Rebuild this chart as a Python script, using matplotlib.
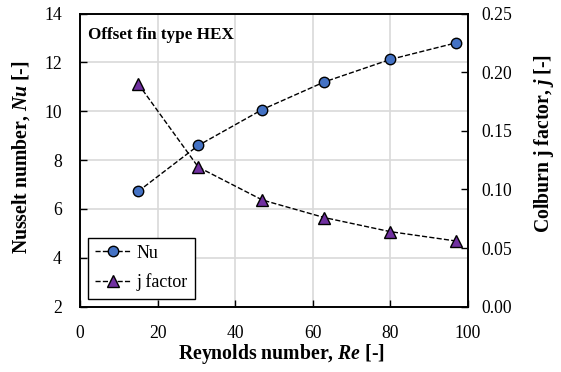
import matplotlib
matplotlib.use("Agg")
import matplotlib.pyplot as plt

# données
reynolds = [15, 30.5, 47, 63, 80, 97]
nusselt = [6.72, 8.6, 10.07, 11.2, 12.12, 12.8]
j_factor = [0.19, 0.119, 0.091, 0.076, 0.064, 0.056]

plt.rcParams['font.family'] = 'Liberation Serif'
plt.rcParams['mathtext.fontset'] = 'custom'
plt.rcParams['mathtext.it'] = 'Liberation Serif:bold:italic'
plt.rcParams['mathtext.rm'] = 'Liberation Serif:bold'

fig = plt.figure(figsize=(5.61, 3.72), dpi=100)
ax = fig.add_axes([0.1426, 0.1755, 0.6914, 0.7882])
ax2 = ax.twinx()

l1, = ax.plot(reynolds, nusselt, linestyle='--', color='black', linewidth=1,
              marker='o', markersize=7.5, markerfacecolor='#4472C4',
              markeredgecolor='black', markeredgewidth=1, label='Nu', zorder=3)
l2, = ax2.plot(reynolds, j_factor, linestyle='--', color='black', linewidth=1,
               marker='^', markersize=8, markerfacecolor='#7030A0',
               markeredgecolor='black', markeredgewidth=1, label='j factor', zorder=3)

ax.set_xlim(0, 100)
ax.set_ylim(2, 14)
ax2.set_ylim(0, 0.25)
ax.set_xticks([0, 20, 40, 60, 80, 100])
ax.set_yticks([2, 4, 6, 8, 10, 12, 14])
ax2.set_yticks([0, 0.05, 0.10, 0.15, 0.20, 0.25])
ax2.set_yticklabels(['0.00', '0.05', '0.10', '0.15', '0.20', '0.25'])

ax.grid(True, color='#d9d9d9', linewidth=1.2)
ax.set_axisbelow(True)
ax.tick_params(axis='x', direction='in', labelsize=12.7, length=5, width=1, pad=13)
ax.tick_params(axis='y', direction='in', labelsize=12.7, length=5, width=1, pad=13)
ax2.tick_params(direction='in', labelsize=12.7, length=5, width=1, pad=10)
for a in (ax, ax2):
    for s in a.spines.values():
        s.set_linewidth(1.2)

ax.set_xlabel('Reynolds number, $Re$ [-]', fontsize=14.2, fontweight='bold')
ax.set_ylabel('Nusselt number, $Nu$ [-]', fontsize=14.2, fontweight='bold')
ax2.set_ylabel('Colburn j factor, $j$ [-]', fontsize=14.2, fontweight='bold')
ax.xaxis.set_label_coords(0.518, -0.122)
ax.yaxis.set_label_coords(-0.124, 0.51)
ax2.yaxis.set_label_coords(1.165, 0.555)

ax.text(0.02, 0.955, 'Offset fin type HEX', transform=ax.transAxes,
        fontsize=12.3, fontweight='bold', va='top', ha='left')

leg = ax.legend(handles=[l1, l2], loc='lower left', fontsize=13, fancybox=False,
                edgecolor='black', framealpha=1, handlelength=2.0,
                handletextpad=0.3, labelspacing=0.65, borderaxespad=0.45)
leg.get_frame().set_linewidth(1)

fig.savefig('out.png', dpi=100)
